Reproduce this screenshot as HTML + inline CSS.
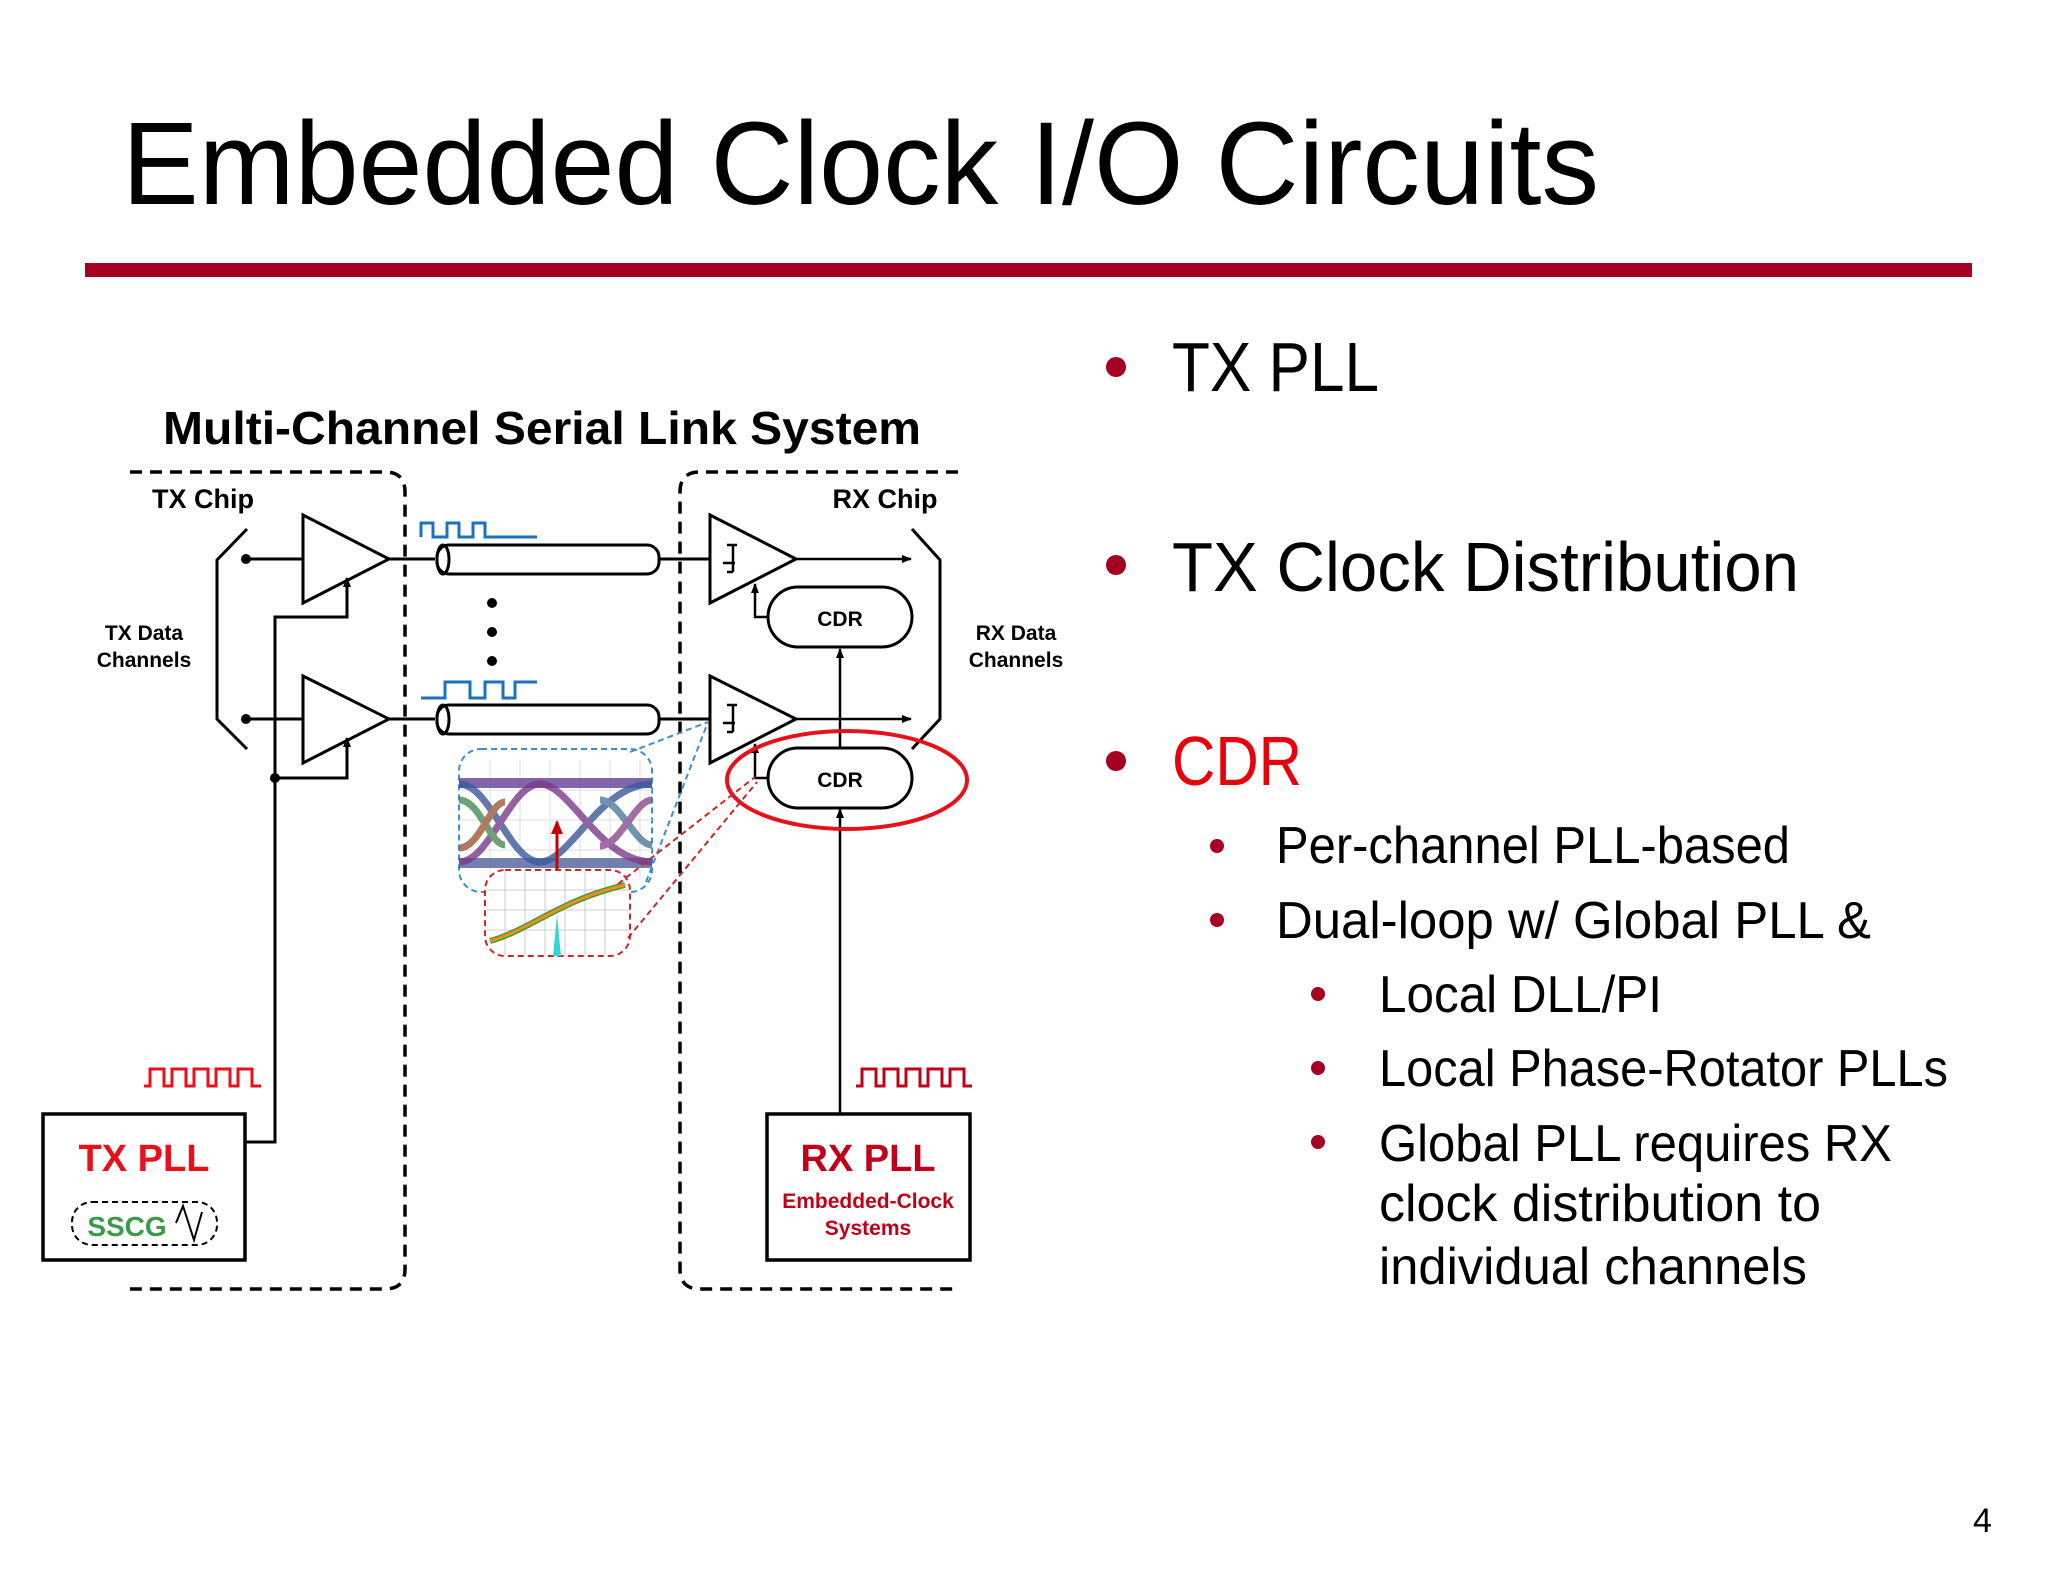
<!DOCTYPE html>
<html><head><meta charset="utf-8"><style>
html,body{margin:0;padding:0;background:#fff;}
svg{display:block;}
text{font-family:"Liberation Sans",Arial,sans-serif;}
</style></head><body>
<svg width="2048" height="1582" viewBox="0 0 2048 1582" xmlns="http://www.w3.org/2000/svg">
<defs>
<marker id="ah" markerWidth="10" markerHeight="10" refX="9" refY="5" orient="auto" markerUnits="userSpaceOnUse"><path d="M0,1 L10,5 L0,9 z" fill="#000"/></marker>
<marker id="ahr" markerWidth="14" markerHeight="14" refX="12" refY="7" orient="auto" markerUnits="userSpaceOnUse"><path d="M0,1 L14,7 L0,13 z" fill="#c00"/></marker>
</defs>
<!-- Title -->
<text x="122" y="204" font-size="118" textLength="1477" lengthAdjust="spacingAndGlyphs" fill="#000">Embedded Clock I/O Circuits</text>
<rect x="85" y="263" width="1887" height="14" fill="#a50021"/>

<!-- Right bullets -->
<g fill="#000">
<circle cx="1116" cy="367" r="10" fill="#a50021"/>
<text x="1172" y="391" font-size="70" textLength="207" lengthAdjust="spacingAndGlyphs">TX PLL</text>
<circle cx="1116" cy="565" r="10" fill="#a50021"/>
<text x="1172" y="591" font-size="70" textLength="627" lengthAdjust="spacingAndGlyphs">TX Clock Distribution</text>
<circle cx="1116" cy="761" r="10" fill="#a50021"/>
<text x="1172" y="785" font-size="70" textLength="130" lengthAdjust="spacingAndGlyphs" fill="#e8000b">CDR</text>
<circle cx="1217" cy="846" r="7" fill="#a50021"/>
<text x="1276" y="863" font-size="52" textLength="514" lengthAdjust="spacingAndGlyphs">Per-channel PLL-based</text>
<circle cx="1217" cy="920" r="7" fill="#a50021"/>
<text x="1276" y="938" font-size="52" textLength="595" lengthAdjust="spacingAndGlyphs">Dual-loop w/ Global PLL &amp;</text>
<circle cx="1318" cy="994" r="7" fill="#a50021"/>
<text x="1379" y="1012" font-size="52" textLength="283" lengthAdjust="spacingAndGlyphs">Local DLL/PI</text>
<circle cx="1318" cy="1068" r="7" fill="#a50021"/>
<text x="1379" y="1086" font-size="52" textLength="569" lengthAdjust="spacingAndGlyphs">Local Phase-Rotator PLLs</text>
<circle cx="1318" cy="1142" r="7" fill="#a50021"/>
<text x="1379" y="1161" font-size="52" textLength="513" lengthAdjust="spacingAndGlyphs">Global PLL requires RX</text>
<text x="1379" y="1221" font-size="52" textLength="442" lengthAdjust="spacingAndGlyphs">clock distribution to</text>
<text x="1379" y="1284" font-size="52" textLength="428" lengthAdjust="spacingAndGlyphs">individual channels</text>
<text x="1973" y="1532" font-size="34">4</text>
</g>

<!-- Diagram -->
<text x="163" y="444" font-size="46" font-weight="bold" textLength="758" lengthAdjust="spacingAndGlyphs">Multi-Channel Serial Link System</text>

<!-- chip boxes -->
<path d="M130,472 H385 Q405,472 405,492 V1269 Q405,1289 385,1289 H130" fill="none" stroke="#000" stroke-width="3.5" stroke-dasharray="12,8"/>
<path d="M958,472 H700 Q680,472 680,492 V1269 Q680,1289 700,1289 H958" fill="none" stroke="#000" stroke-width="3.5" stroke-dasharray="12,8"/>
<text x="203" y="508" font-size="27" font-weight="bold" text-anchor="middle">TX Chip</text>
<text x="885" y="508" font-size="27" font-weight="bold" text-anchor="middle">RX Chip</text>
<text x="144" y="640" font-size="21" font-weight="bold" text-anchor="middle">TX Data</text>
<text x="144" y="667" font-size="21" font-weight="bold" text-anchor="middle">Channels</text>
<text x="1016" y="640" font-size="21" font-weight="bold" text-anchor="middle">RX Data</text>
<text x="1016" y="667" font-size="21" font-weight="bold" text-anchor="middle">Channels</text>

<g fill="none" stroke="#000" stroke-width="3">
<!-- brackets -->
<path d="M247,529 L217,560 V719 L247,749"/>
<path d="M912,529 L940,560 V719 L912,749"/>
<!-- TX buffers -->
<path d="M303,515 L389,559 L303,603 Z" fill="#fff"/>
<path d="M303,676 L389,719 L303,763 Z" fill="#fff"/>
<line x1="246" y1="559" x2="303" y2="559"/>
<line x1="246" y1="719" x2="303" y2="719"/>
<line x1="389" y1="559" x2="435" y2="559"/>
<line x1="389" y1="719" x2="435" y2="719"/>
<!-- clock tree -->
<path d="M245,1142 H275 V617 H347 V578" marker-end="url(#ah)"/>
<path d="M275,778 H347 V738" marker-end="url(#ah)"/>
<!-- cables -->
<rect x="437" y="545" width="222" height="29" rx="12"/>
<ellipse cx="443" cy="559.5" rx="6" ry="14.5"/>
<rect x="437" y="705" width="222" height="29" rx="12"/>
<ellipse cx="443" cy="719.5" rx="6" ry="14.5"/>
<line x1="659" y1="559" x2="710" y2="559"/>
<line x1="659" y1="719" x2="710" y2="719"/>
<!-- RX slicers -->
<path d="M710,515 L796,559 L710,603 Z" fill="#fff"/>
<path d="M710,676 L796,719 L710,763 Z" fill="#fff"/>
<path d="M733,545 V572 M727,545 H737 M723,563 H735 M727,572 H733" stroke-width="2.5"/>
<path d="M733,705 V732 M727,705 H737 M723,723 H735 M727,732 H733" stroke-width="2.5"/>
<line x1="796" y1="559" x2="911" y2="559" stroke-width="2.5" marker-end="url(#ah)"/>
<line x1="796" y1="719" x2="911" y2="719" stroke-width="2.5" marker-end="url(#ah)"/>
<!-- CDR -->
<rect x="768" y="587" width="144" height="60" rx="30" fill="#fff"/>
<rect x="768" y="748" width="144" height="60" rx="30" fill="#fff"/>
<path d="M768,617 H755 V584" stroke-width="2.5" marker-end="url(#ah)"/>
<path d="M768,778 H755 V744" stroke-width="2.5" marker-end="url(#ah)"/>
<line x1="840" y1="1114" x2="840" y2="809" stroke-width="2.5" marker-end="url(#ah)"/>
<line x1="840" y1="748" x2="840" y2="649" stroke-width="2.5" marker-end="url(#ah)"/>
<!-- PLL boxes -->
<rect x="43" y="1114" width="202" height="146" stroke-width="3.5"/>
<rect x="767" y="1114" width="203" height="146" stroke-width="3.5"/>
<rect x="72" y="1202" width="145" height="43" rx="20" stroke-width="2" stroke-dasharray="6,4"/>
<path d="M176,1223 L183,1206 L194,1240 L202,1212" stroke-width="2"/>
</g>
<circle cx="246" cy="559" r="5"/><circle cx="246" cy="719" r="5"/><circle cx="275" cy="778" r="5"/>
<circle cx="492" cy="603" r="5"/><circle cx="492" cy="632" r="5"/><circle cx="492" cy="661" r="5"/>
<text x="840" y="626" font-size="21" font-weight="bold" text-anchor="middle">CDR</text>
<text x="840" y="787" font-size="21" font-weight="bold" text-anchor="middle">CDR</text>
<text x="144" y="1171" font-size="38" font-weight="bold" text-anchor="middle" fill="#e8101a">TX PLL</text>
<text x="127" y="1236" font-size="28" font-weight="bold" text-anchor="middle" fill="#3a9a4a">SSCG</text>
<text x="868" y="1171" font-size="38" font-weight="bold" text-anchor="middle" fill="#c00018">RX PLL</text>
<text x="868" y="1208" font-size="21" font-weight="bold" text-anchor="middle" fill="#c00018">Embedded-Clock</text>
<text x="868" y="1235" font-size="21" font-weight="bold" text-anchor="middle" fill="#c00018">Systems</text>

<!-- waveforms -->
<path d="M421,537 V523 H433 V537 H447 V523 H459 V537 H473 V523 H485 V537 H537" fill="none" stroke="#1a72c0" stroke-width="3"/>
<path d="M421,698 H445 V682 H470 V698 H485 V682 H503 V698 H515 V682 H537" fill="none" stroke="#1a72c0" stroke-width="3"/>
<path d="M144,1086 H150 V1069 H164 V1086 H172 V1069 H186 V1086 H194 V1069 H208 V1086 H216 V1069 H230 V1086 H238 V1069 H252 V1086 H261" fill="none" stroke="#e8101a" stroke-width="3"/>
<path d="M856,1086 H862 V1069 H876 V1086 H884 V1069 H898 V1086 H906 V1069 H920 V1086 H928 V1069 H942 V1086 H950 V1069 H964 V1086 H972" fill="none" stroke="#c00018" stroke-width="3"/>

<!-- red ellipse -->
<ellipse cx="847" cy="780" rx="120" ry="49" fill="none" stroke="#e8101a" stroke-width="4"/>

<!-- eye diagram -->
<rect x="459" y="749" width="193" height="143" rx="22" fill="#fff" stroke="#3a8fd0" stroke-width="2" stroke-dasharray="6,4"/>
<g stroke="#ddd" stroke-width="1">
<path d="M459,790 H652 M459,820 H652 M459,850 H652 M490,760 V880 M520,760 V880 M550,760 V880 M580,760 V880 M610,760 V880 M640,760 V880"/>
</g>
<rect x="459" y="778" width="193" height="10" fill="#6a4a9a" opacity="0.85"/>
<rect x="459" y="858" width="193" height="10" fill="#5a6aa0" opacity="0.85"/>
<g fill="none" stroke-width="7" opacity="0.8">
<path d="M459,784 C490,784 510,862 540,862 C570,862 600,784 652,784" stroke="#3a5a9a"/>
<path d="M459,862 C490,862 510,784 540,784 C570,784 600,862 652,862" stroke="#7a3a8a"/>
<path d="M459,800 C480,800 490,845 505,845" stroke="#4a8a5a"/>
<path d="M459,848 C480,848 490,802 505,802" stroke="#9a5a3a"/>
<path d="M600,800 C620,800 635,845 652,845" stroke="#4a7a9a"/>
<path d="M600,846 C620,846 635,800 652,800" stroke="#8a4a8a"/>
</g>
<line x1="557" y1="923" x2="557" y2="822" stroke="#c00" stroke-width="3" marker-end="url(#ahr)"/>
<rect x="485" y="870" width="145" height="86" rx="20" fill="#fff" stroke="#c8282a" stroke-width="2" stroke-dasharray="6,4"/>
<g stroke="#ccc" stroke-width="1"><path d="M485,890 H630 M485,910 H630 M485,930 H630 M505,870 V956 M525,870 V956 M545,870 V956 M565,870 V956 M585,870 V956 M605,870 V956"/></g>
<path d="M490,941 C530,930 560,900 625,885" fill="none" stroke="#4a9a3a" stroke-width="6"/>
<path d="M490,941 C530,930 560,900 625,885" fill="none" stroke="#e8901a" stroke-width="3"/>
<path d="M553,956 L557,915 L561,956 Z" fill="#30d8d8"/>
<!-- leaders -->
<g fill="none" stroke-width="2" stroke-dasharray="6,4">
<path d="M630,752 L708,722 M646,882 L708,722" stroke="#3a8fd0"/>
<path d="M618,884 L755,777 M628,938 L757,782" stroke="#c8282a"/>
</g>
</svg>
</body></html>
